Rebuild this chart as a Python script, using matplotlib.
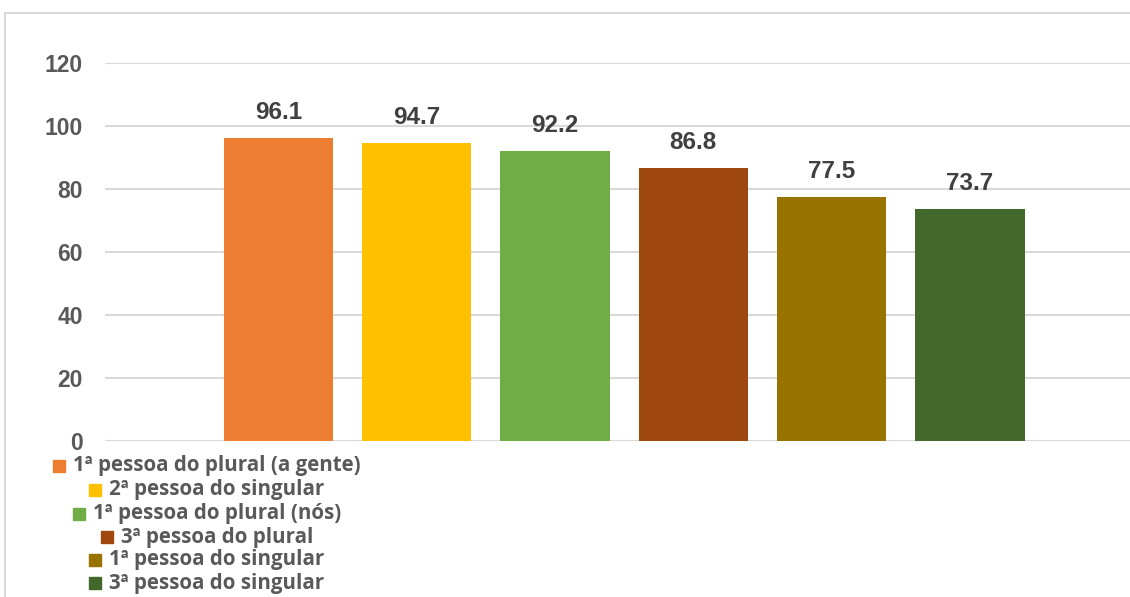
import matplotlib.pyplot as plt
from matplotlib.patches import Rectangle

# data
series = ['1ª pessoa do plural (a gente)', '2ª pessoa do singular',
          '1ª pessoa do plural (nós)', '3ª pessoa do plural',
          '1ª pessoa do singular', '3ª pessoa do singular']
values = [96.1, 94.7, 92.2, 86.8, 77.5, 73.7]
colors = ['#ED7D31', '#FFC000', '#70AD47', '#9E480E', '#997300', '#43682B']
yticks = [0, 20, 40, 60, 80, 100, 120]

W, H = 1130, 597
fig = plt.figure(figsize=(W / 100, H / 100), dpi=100)

# chart area border (cropped on right and bottom)
fig.patches.append(Rectangle((5 / W, -0.05), 1.2, 1 - 13 / H + 0.05,
                             transform=fig.transFigure, fill=False,
                             edgecolor='#d9d9d9', linewidth=1.5))

ax = fig.add_axes([105 / W, 1 - 441 / H, (1135 - 105) / W, (441 - 63) / H])
x = list(range(len(values)))
ax.bar(x, values, width=0.79, color=colors, zorder=2)
ax.set_xlim(-1.254, -1.254 + (1135 - 105) / 138.3)
ax.set_ylim(0, 120)
ax.set_yticks(yticks)
ax.set_xticks([])
ax.grid(axis='y', color='#d9d9d9', linewidth=1.5, zorder=0)
for s in ax.spines.values():
    s.set_visible(False)
ax.tick_params(axis='y', length=0, pad=16)
for lab in ax.get_yticklabels():
    lab.set_fontfamily('Liberation Sans')
    lab.set_fontweight('bold')
    lab.set_fontsize(16.5)
    lab.set_color('#595959')

for xi, v in zip(x, values):
    ax.annotate(f'{v:.1f}', (xi, v), xytext=(0, 10), textcoords='offset points',
                ha='center', va='bottom', fontsize=17.5, fontweight='bold',
                family='Liberation Sans', color='#404040')

# legend: entries centered on one column
fig.canvas.draw()
r = fig.canvas.get_renderer()
cx = 217
ys = [466, 490, 514, 537, 560, 583]
for name, c, yy in zip(series, colors, ys):
    t = fig.text(cx / W, 1 - yy / H, name, ha='center', va='center',
                 fontsize=14.8, fontweight='bold', family='Open Sans', color='#595959')
    bb = t.get_window_extent(r)
    fig.patches.append(Rectangle(((bb.x0 - 20) / W, 1 - (yy + 6) / H), 12 / W, 12 / H,
                                 transform=fig.transFigure, color=c))

fig.savefig('out.png', dpi=100)
